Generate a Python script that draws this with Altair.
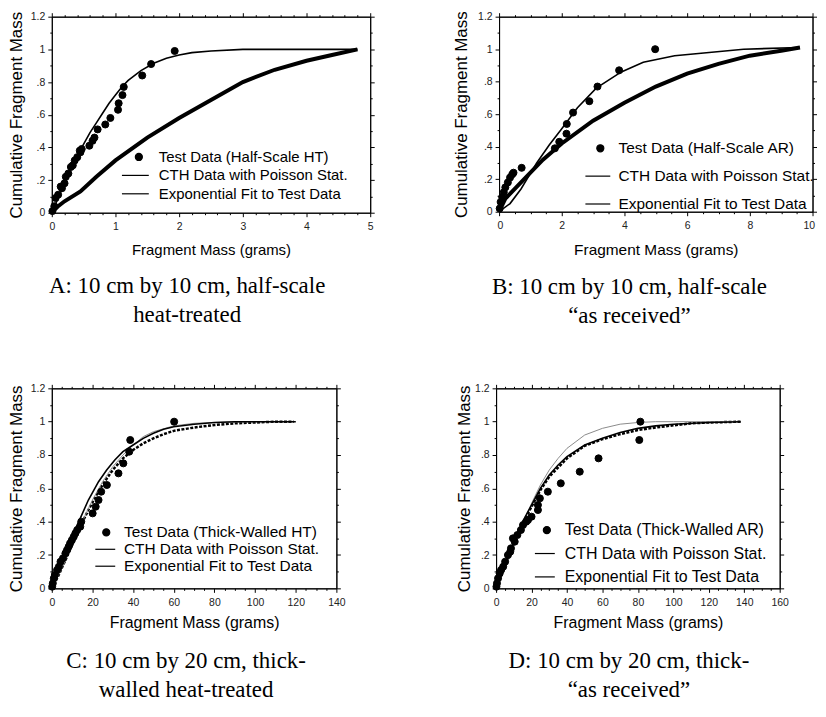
import altair as alt
import pandas as pd

SANS = "Liberation Sans"
SERIF = "Liberation Serif"

CTH_NAME = "CTH Data with Poisson Stat."
FIT_NAME = "Exponential Fit to Test Data"

# ---------------- Panel A: half-scale heat-treated ----------------
A_test_x = [0.01, 0.04, 0.06, 0.10, 0.14, 0.16, 0.20, 0.22, 0.26, 0.30, 0.33, 0.36, 0.40, 0.44, 0.45, 0.47,
            0.59, 0.64, 0.67, 0.72, 0.84, 0.92, 1.04, 1.05, 1.11, 1.13, 1.42, 1.56, 1.93]
A_test_y = [0.01, 0.04, 0.09, 0.11, 0.16, 0.15, 0.18, 0.22, 0.24, 0.28, 0.29, 0.32, 0.34, 0.38, 0.37, 0.39,
            0.41, 0.44, 0.46, 0.51, 0.54, 0.58, 0.63, 0.67, 0.72, 0.77, 0.84, 0.91, 0.99]
A_fit_x = [0, 0.1, 0.2, 0.3, 0.4, 0.5, 0.6, 0.7, 0.8, 0.9, 1.0, 1.1, 1.2, 1.4, 1.6, 1.8, 2.0, 2.2, 2.5, 3.0, 3.5, 4.0, 4.8]
A_fit_y = [0, 0.09, 0.18, 0.27, 0.35, 0.42, 0.49, 0.55, 0.61, 0.67, 0.72, 0.77, 0.81, 0.87, 0.915, 0.945, 0.965,
           0.98, 0.99, 1.0, 1.0, 1.0, 1.0]
A_cth_x = [0, 0.1, 0.2, 0.45, 0.7, 1.0, 1.5, 2.0, 2.5, 3.0, 3.5, 4.0, 4.4, 4.8]
A_cth_y = [0, 0.04, 0.07, 0.13, 0.22, 0.32, 0.46, 0.58, 0.69, 0.80, 0.875, 0.93, 0.965, 1.0]

# ---------------- Panel B: half-scale as received ----------------
B_test_x = [0.02, 0.05, 0.10, 0.15, 0.20, 0.28, 0.35, 0.42, 0.46, 0.72, 1.78, 1.92, 2.15, 2.16, 2.36, 2.88, 3.14, 3.83, 4.98]
B_test_y = [0.02, 0.06, 0.09, 0.12, 0.15, 0.18, 0.21, 0.23, 0.24, 0.27, 0.39, 0.43, 0.48, 0.54, 0.61, 0.68, 0.77, 0.87, 1.0]
B_fit_x = [0, 0.35, 0.7, 1.2, 1.6, 2.0, 2.5, 3.1, 3.9, 4.6, 5.6, 6.7, 7.8, 9.6]
B_fit_y = [0, 0.05, 0.14, 0.30, 0.41, 0.51, 0.64, 0.76, 0.86, 0.92, 0.96, 0.98, 1.0, 1.01]
B_cth_x = [0, 0.2, 0.5, 0.9, 1.4, 2.0, 3.0, 4.0, 5.0, 6.0, 7.0, 8.0, 9.0, 9.6]
B_cth_y = [0, 0.08, 0.14, 0.22, 0.32, 0.42, 0.56, 0.67, 0.77, 0.85, 0.91, 0.96, 0.99, 1.01]

# ---------------- Panel C: thick-walled heat-treated ----------------
C_test_x = [0.2, 0.5, 1.0, 1.5, 2.6, 3.5, 4.3, 5.5, 6.7, 7.5, 8.3, 9.0, 9.9, 10.8, 11.6, 12.5, 14.0, 14.5,
            20.1, 21.6, 23.0, 24.3, 27.1, 32.8, 35.2, 38.1, 38.6, 60.2]
C_test_y = [0.01, 0.03, 0.06, 0.08, 0.11, 0.13, 0.16, 0.18, 0.21, 0.23, 0.25, 0.27, 0.29, 0.31, 0.33, 0.35, 0.37, 0.40,
            0.45, 0.49, 0.53, 0.58, 0.62, 0.69, 0.75, 0.82, 0.89, 1.0]
C_fit_x = [0, 2, 5, 8, 11, 14, 18, 23, 27, 31, 35, 40, 45, 50, 55, 60, 70, 80, 90, 120]
C_fit_y = [0, 0.06, 0.15, 0.25, 0.34, 0.42, 0.53, 0.64, 0.71, 0.77, 0.82, 0.86, 0.90, 0.93, 0.955, 0.97, 0.985, 0.995, 1.0, 1.0]
C_cth_x = [0, 3, 6, 10, 14, 18, 22, 26, 30, 35, 40, 45, 50, 55, 60, 70, 80, 90, 100, 110, 119]
C_cth_y = [0, 0.07, 0.15, 0.26, 0.37, 0.47, 0.56, 0.64, 0.71, 0.78, 0.83, 0.87, 0.90, 0.925, 0.945, 0.965, 0.98, 0.99, 0.995, 1.0, 1.0]
C_gray_x = [0, 5, 10, 15, 20, 25, 30, 35, 40, 45, 50, 60, 70, 80, 100, 120]
C_gray_y = [0, 0.12, 0.26, 0.40, 0.53, 0.64, 0.73, 0.80, 0.86, 0.91, 0.94, 0.975, 0.99, 0.995, 1.0, 1.0]

# ---------------- Panel D: thick-walled as received ----------------
D_test_x = [0.2, 0.5, 1.1, 2.0, 2.8, 4.0, 5.1, 6.7, 8.0, 8.4, 9.5, 10.5, 12.0, 14.0, 15.2, 17.0, 18.0, 20.0,
            23.6, 23.6, 24.7, 29.2, 36.5, 47.2, 57.8, 80.8, 81.4]
D_test_y = [0.01, 0.03, 0.06, 0.09, 0.11, 0.13, 0.16, 0.20, 0.22, 0.24, 0.30, 0.28, 0.32, 0.35, 0.38, 0.40, 0.41, 0.43,
            0.47, 0.50, 0.54, 0.58, 0.63, 0.70, 0.78, 0.89, 1.0]
D_fit_x = [0, 5, 10, 15, 20, 25, 30, 35, 40, 50, 60, 70, 80, 90, 100, 120, 138]
D_fit_y = [0, 0.14, 0.28, 0.40, 0.50, 0.60, 0.68, 0.74, 0.79, 0.86, 0.90, 0.935, 0.96, 0.975, 0.985, 0.995, 1.0]
D_cth_x = [0, 5, 10, 15, 20, 25, 30, 40, 50, 60, 70, 80, 90, 100, 110, 120, 138]
D_cth_y = [0, 0.13, 0.27, 0.39, 0.49, 0.59, 0.67, 0.78, 0.855, 0.895, 0.925, 0.95, 0.965, 0.978, 0.99, 0.995, 1.0]
D_gray_x = [0, 5, 10, 15, 20, 25, 30, 35, 40, 50, 60, 70, 80, 90, 100, 138]
D_gray_y = [0, 0.12, 0.26, 0.39, 0.51, 0.62, 0.71, 0.78, 0.84, 0.92, 0.96, 0.985, 0.995, 1.0, 1.0, 1.0]

Y_TICKS = [round(i * 0.1, 1) for i in range(13)]
A_XTICKS = [round(i * 0.2, 1) for i in range(26)]
B_XTICKS = [round(i * 0.5, 1) for i in range(21)]
C_XTICKS = [i * 5 for i in range(29)]
D_XTICKS = [i * 5 for i in range(33)]

SYM = 50  # legend / point symbol area


def line_path(left_px, right_px):
    u = (SYM ** 0.5) / 2
    return f"M{-left_px / u:.3f},0H{right_px / u:.3f}"


def major(step):
    return f"abs(datum.value / {step} - round(datum.value / {step})) < 0.001"


def make_panel(p):
    xs = alt.Scale(domain=p["xdomain"], nice=False, zero=False)
    ys = alt.Scale(domain=[0, 1.2], nice=False, zero=False)
    xm = major(p["xstep"])
    ym = major(0.2)
    tsx = {"condition": {"test": xm, "value": 4}, "value": 2}
    tsy = {"condition": {"test": ym, "value": 4}, "value": 2}

    ax_bottom = alt.Axis(
        orient="bottom", values=p["xticks"], tickSize=tsx,
        labelExpr=f"{xm} ? format(datum.value, '~g') : ''",
        labelOverlap=False, labelFlush=p.get("flush", False), labelFlushOffset=2,
        labelPadding=5, title=p["xtitle"], titleFontSize=p["xts"], titlePadding=p["xtp"],
    )
    ax_left = alt.Axis(
        orient="left", values=Y_TICKS, tickSize=tsy,
        labelExpr=f"{ym} ? ((datum.value > 0 && datum.value < 0.999) ? substring(format(datum.value, '.1f'), 1) : format(datum.value, '~g')) : ''",
        labelOverlap=False, labelPadding=3,
        title="Cumulative Fragment Mass", titleFontSize=17, titlePadding=p["ytp"],
    )
    ax_top = alt.Axis(orient="top", values=p["xticks"], tickSize=tsx, labels=False, title=None)
    ax_right = alt.Axis(orient="right", values=Y_TICKS, tickSize=tsy, labels=False, title=None)

    names = p["names"]
    df_test = pd.DataFrame({"x": p["test"][0], "y": p["test"][1], "series": names[0]})
    df_fit = pd.DataFrame({"x": p["fit"][0], "y": p["fit"][1]})
    df_cth = pd.DataFrame({"x": p["cth"][0], "y": p["cth"][1]})

    layers = []
    layers.append(alt.Chart(df_cth).mark_line(color="black", **p["cth_style"]).encode(
        x=alt.X("x:Q", scale=xs, axis=None), y=alt.Y("y:Q", scale=ys, axis=None)))
    if "gray" in p:
        df_gray = pd.DataFrame({"x": p["gray"][0], "y": p["gray"][1]})
        layers.append(alt.Chart(df_gray).mark_line(color="#8a8a8a", strokeWidth=1).encode(
            x=alt.X("x:Q", scale=xs, axis=None), y=alt.Y("y:Q", scale=ys, axis=None)))
    layers.append(alt.Chart(df_fit).mark_line(color="black", strokeWidth=1.6).encode(
        x=alt.X("x:Q", scale=xs, axis=ax_top), y=alt.Y("y:Q", scale=ys, axis=ax_right)))

    path = line_path(*p["leg_line"])
    leg = dict(
        orient="none", legendX=p["legX"], legendY=p["legY"], direction="vertical",
        title=None, labelFont=SANS, labelFontSize=p["legfs"], labelColor="black",
        labelLimit=400, labelOffset=p["labOff"], rowPadding=p["rowPad"], padding=0,
        symbolSize=SYM, symbolStrokeWidth=1.2, symbolOpacity=1,
    )
    pts = alt.Chart(df_test).mark_point(
        filled=True, color="black", strokeWidth=1, opacity=1, size=SYM
    ).encode(
        x=alt.X("x:Q", scale=xs, axis=ax_bottom),
        y=alt.Y("y:Q", scale=ys, axis=ax_left),
        shape=alt.Shape("series:N", scale=alt.Scale(domain=names, range=["circle", path, path]),
                        legend=alt.Legend(**leg)),
        stroke=alt.Stroke("series:N", scale=alt.Scale(domain=names, range=["black", "black", "black"]),
                          legend=alt.Legend(**leg)),
    )
    layers.append(pts)

    return alt.layer(*layers).resolve_axis(x="independent", y="independent").properties(
        width=p["w"], height=p["h"],
        title=alt.TitleParams(
            text=p["caption"], orient="bottom", anchor="middle", frame="group",
            font=SERIF, fontSize=23, fontWeight="normal", color="black",
            lineHeight=29, dx=p["capdx"], offset=p["capoff"],
        ),
    )


pA = make_panel(dict(
    test=(A_test_x, A_test_y), fit=(A_fit_x, A_fit_y), cth=(A_cth_x, A_cth_y),
    names=["Test Data (Half-Scale HT)", CTH_NAME, FIT_NAME],
    xdomain=[0, 5], xticks=A_XTICKS, xstep=1, xtitle="Fragment Mass (grams)", xts=15, xtp=10, ytp=5,
    cth_style=dict(strokeWidth=4), w=320, h=197,
    leg_line=(17, 10), legX=80, legY=133.5, legfs=15, labOff=12.5, rowPad=2.5,
    caption=["A: 10 cm by 10 cm, half-scale", "heat-treated"], capdx=-24, capoff=18,
))
pB = make_panel(dict(
    test=(B_test_x, B_test_y), fit=(B_fit_x, B_fit_y), cth=(B_cth_x, B_cth_y),
    names=["Test Data (Half-Scale AR)", CTH_NAME, FIT_NAME],
    xdomain=[0, 10], xticks=B_XTICKS, xstep=2, xtitle="Fragment Mass (grams)", xts=15.5, xtp=11.5, ytp=7,
    cth_style=dict(strokeWidth=4), w=315, h=196, flush=True,
    leg_line=(15, 10), legX=94, legY=124.5, legfs=15.5, labOff=10.5, rowPad=11,
    caption=["B: 10 cm by 10 cm, half-scale", "\u201cas received\u201d"], capdx=-26.5, capoff=18,
))
pC = make_panel(dict(
    test=(C_test_x, C_test_y), fit=(C_fit_x, C_fit_y), cth=(C_cth_x, C_cth_y), gray=(C_gray_x, C_gray_y),
    names=["Test Data (Thick-Walled HT)", CTH_NAME, FIT_NAME],
    xdomain=[0, 140], xticks=C_XTICKS, xstep=20, xtitle="Fragment Mass (grams)", xts=16, xtp=6.5, ytp=5,
    cth_style=dict(strokeWidth=2.5, strokeDash=[3, 1.5]), w=286, h=201,
    leg_line=(11, 9), legX=47, legY=137, legfs=15.5, labOff=10, rowPad=0,
    caption=["C: 10 cm by 20 cm, thick-", "walled heat-treated"], capdx=-8, capoff=20,
))
pD = make_panel(dict(
    test=(D_test_x, D_test_y), fit=(D_fit_x, D_fit_y), cth=(D_cth_x, D_cth_y), gray=(D_gray_x, D_gray_y),
    names=["Test Data (Thick-Walled AR)", CTH_NAME, FIT_NAME],
    xdomain=[0, 160], xticks=D_XTICKS, xstep=20, xtitle="Fragment Mass (grams)", xts=16, xtp=6.5, ytp=1.5,
    cth_style=dict(strokeWidth=2.5, strokeDash=[3, 1.5]), w=285, h=201,
    leg_line=(12, 8), legX=43, legY=134.5, legfs=16, labOff=10, rowPad=7.5,
    caption=["D: 10 cm by 20 cm, thick-", "\u201cas received\u201d"], capdx=-9, capoff=20,
))

top = alt.hconcat(pA, pB, spacing=76.5).resolve_scale(shape="independent", stroke="independent").resolve_legend(
    shape="independent", stroke="independent")
bottom = alt.hconcat(pC, pD, spacing=108.5).resolve_scale(shape="independent", stroke="independent").resolve_legend(
    shape="independent", stroke="independent")

chart = alt.vconcat(top, bottom, spacing=54.5).resolve_scale(
    shape="independent", stroke="independent"
).resolve_legend(
    shape="independent", stroke="independent"
).properties(
    padding={"left": -2, "top": 0, "right": 0, "bottom": 0}
).configure(
    background="white", font=SANS,
).configure_view(
    stroke="black", strokeWidth=1,
).configure_axis(
    grid=False, domainColor="black", domainWidth=1, tickColor="black", tickWidth=1,
    labelFont=SANS, labelFontSize=10.5, labelColor="#222",
    titleFont=SANS, titleFontWeight="normal", titleColor="black",
)

chart.save("out.html", embed_options={"renderer": "svg", "actions": False})
